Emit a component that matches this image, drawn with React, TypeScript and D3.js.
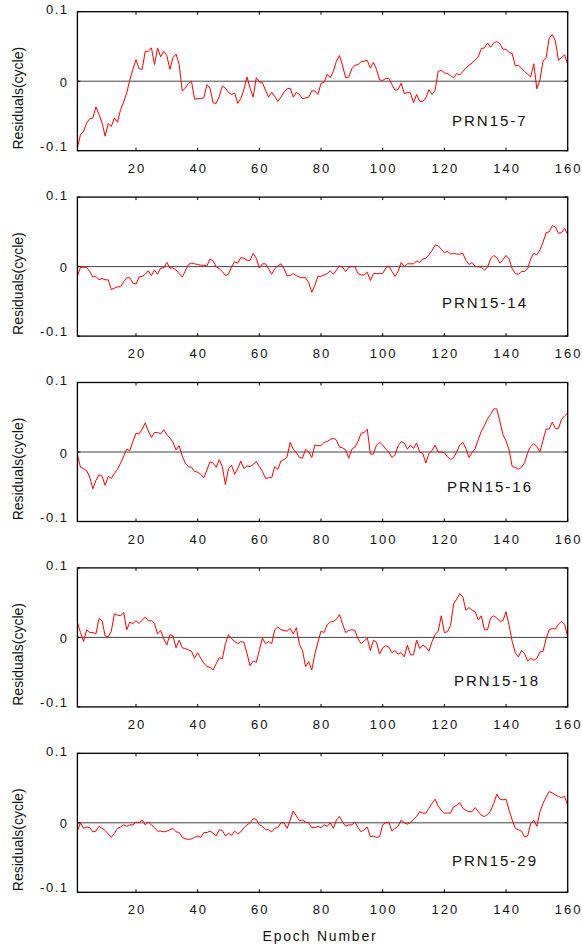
import React from "react";
import { scaleLinear, line } from "d3";

// epoch axis
const epochs = Array.from({ length: 160 }, (_, i) => i + 1);
const xTicks = [20, 40, 60, 80, 100, 120, 140, 160];
const yTicks = [0.1, 0, -0.1];

const prn7 = [
  -0.096, -0.077, -0.072, -0.06, -0.054, -0.053, -0.037, -0.048, -0.06, -0.079,
  -0.061, -0.065, -0.053, -0.059, -0.041, -0.03, -0.017, 0.002, 0.017, 0.031,
  0.018, 0.017, 0.043, 0.043, 0.048, 0.024, 0.048, 0.035, 0.043, 0.037,
  0.017, 0.034, 0.039, 0.024, -0.014, -0.01, -0.003, 0.0, -0.026, -0.025,
  -0.025, -0.024, -0.005, -0.01, -0.031, -0.032, -0.022, -0.007, -0.01, -0.016,
  -0.019, -0.017, -0.032, -0.025, -0.012, 0.006, -0.01, -0.023, 0.005, -0.001,
  -0.002, -0.013, -0.023, -0.016, -0.022, -0.029, -0.023, -0.016, -0.011, -0.01,
  -0.023, -0.016, -0.019, -0.025, -0.024, -0.023, -0.014, -0.014, -0.019, -0.003,
  -0.002, 0.01, 0.005, 0.014, 0.029, 0.037, 0.022, 0.005, 0.006, 0.018,
  0.023, 0.024, 0.028, 0.029, 0.03, 0.019, 0.027, 0.017, 0.002, 0.001,
  0.004, 0.004, -0.005, -0.013, -0.012, -0.003, -0.018, -0.016, -0.017, -0.031,
  -0.019, -0.029, -0.029, -0.024, -0.012, -0.019, -0.013, 0.014, 0.016, 0.012,
  0.011, 0.008, 0.005, 0.011, 0.009, 0.014, 0.019, 0.023, 0.026, 0.031,
  0.035, 0.047, 0.048, 0.055, 0.049, 0.055, 0.057, 0.054, 0.046, 0.046,
  0.041, 0.04, 0.022, 0.023, 0.019, 0.014, 0.01, 0.006, 0.025, -0.011,
  0.002, 0.029, 0.034, 0.062, 0.067, 0.058, 0.03, 0.034, 0.038, 0.024,
];

const prn14 = [
  -0.014, -0.001, -0.001, -0.001, -0.007, -0.015, -0.014, -0.019, -0.017, -0.019,
  -0.019, -0.033, -0.031, -0.029, -0.029, -0.022, -0.016, -0.016, -0.024, -0.025,
  -0.015, -0.014, -0.011, -0.006, -0.013, -0.005, -0.011, -0.002, -0.002, 0.006,
  -0.002, -0.002, -0.005, -0.01, -0.015, -0.006, 0.003, 0.005, 0.004, 0.003,
  0.002, 0.002, 0.001, 0.011, 0.008, 0.0, -0.003, -0.007, -0.013, -0.011,
  0.0, 0.007, 0.005, 0.013, 0.012, 0.009, 0.009, 0.019, 0.012, -0.002,
  0.004, 0.004, -0.003, -0.011, -0.003, 0.001, 0.004, -0.003, -0.013, -0.013,
  -0.01, -0.013, -0.015, -0.016, -0.016, -0.023, -0.037, -0.027, -0.014, -0.014,
  -0.012, -0.01, -0.006, -0.011, -0.005, 0.001, -0.001, -0.007, -0.001, 0.0,
  0.0, -0.01, -0.012, -0.012, -0.008, -0.02, -0.01, -0.01, -0.01, -0.01,
  -0.002, 0.001, -0.007, -0.014, -0.007, 0.006, 0.0, 0.004, 0.004, 0.004,
  0.008, 0.006, 0.011, 0.012, 0.017, 0.023, 0.031, 0.03, 0.025, 0.02,
  0.022, 0.018, 0.019, 0.018, 0.018, 0.019, 0.009, 0.003, 0.006, 0.0,
  0.0, -0.001, -0.005, -0.001, 0.011, 0.016, 0.013, 0.005, 0.01, 0.016,
  0.011, -0.003, -0.01, -0.011, -0.007, -0.007, -0.003, 0.011, 0.019, 0.017,
  0.024, 0.035, 0.049, 0.05, 0.059, 0.057, 0.048, 0.049, 0.055, 0.046,
];

const prn16 = [
  -0.004, -0.022, -0.024, -0.027, -0.036, -0.053, -0.041, -0.033, -0.035, -0.048,
  -0.035, -0.038, -0.031, -0.025, -0.016, -0.006, 0.004, 0.002, 0.015, 0.027,
  0.026, 0.033, 0.042, 0.03, 0.021, 0.028, 0.028, 0.026, 0.032, 0.025,
  0.02, 0.014, 0.003, 0.009, -0.006, -0.016, -0.021, -0.022, -0.028, -0.029,
  -0.032, -0.037, -0.026, -0.014, -0.016, -0.022, -0.011, -0.021, -0.047, -0.024,
  -0.019, -0.032, -0.024, -0.013, -0.024, -0.02, -0.021, -0.018, -0.014, -0.021,
  -0.028, -0.038, -0.037, -0.037, -0.021, -0.025, -0.013, -0.011, -0.007, 0.014,
  0.004, -0.001, -0.008, -0.009, 0.004, 0.0, -0.008, 0.01, 0.009, 0.009,
  0.014, 0.015, 0.018, 0.02, 0.017, 0.007, 0.006, 0.003, -0.009, 0.004,
  0.007, 0.015, 0.027, 0.028, 0.033, -0.003, -0.003, 0.01, 0.014, 0.01,
  0.004, 0.0, -0.008, -0.004, 0.009, 0.015, 0.013, 0.004, 0.01, 0.005,
  0.013, 0.0, -0.002, -0.016, -0.002, 0.002, 0.01, 0.0, 0.0, -0.001,
  -0.007, -0.011, -0.008, 0.0, 0.01, 0.014, 0.005, -0.008, -0.001, 0.005,
  0.018, 0.03, 0.038, 0.048, 0.054, 0.062, 0.062, 0.044, 0.025, 0.016,
  0.003, -0.021, -0.022, -0.025, -0.022, -0.016, -0.001, 0.008, 0.012, 0.008,
  0.0, 0.017, 0.033, 0.033, 0.043, 0.034, 0.034, 0.047, 0.052, 0.056,
];

const prn18 = [
  0.022, 0.007, -0.006, 0.011, 0.007, 0.007, 0.005, 0.027, 0.024, 0.002,
  0.001, 0.009, 0.034, 0.032, 0.031, 0.036, 0.011, 0.022, 0.02, 0.024,
  0.02, 0.025, 0.029, 0.024, 0.024, 0.02, 0.005, 0.01, -0.002, -0.011,
  0.004, 0.002, -0.015, -0.004, -0.015, -0.016, -0.018, -0.02, -0.03, -0.022,
  -0.03, -0.037, -0.042, -0.043, -0.047, -0.038, -0.029, -0.031, -0.009, 0.004,
  -0.002, -0.006, -0.009, -0.006, -0.007, -0.023, -0.041, -0.034, -0.036, -0.019,
  -0.001, -0.009, -0.006, -0.009, 0.011, 0.015, 0.011, 0.01, 0.009, 0.013,
  0.005, 0.014, -0.01, -0.019, -0.042, -0.035, -0.047, -0.024, -0.007, 0.009,
  0.007, 0.018, 0.022, 0.023, 0.026, 0.033, 0.019, 0.007, 0.01, 0.011,
  0.01, -0.002, -0.009, -0.005, -0.001, -0.019, -0.004, -0.007, -0.024, -0.015,
  -0.012, -0.014, -0.022, -0.019, -0.024, -0.022, -0.028, -0.011, -0.025, -0.025,
  -0.004, -0.016, -0.011, -0.014, -0.02, -0.006, 0.004, 0.009, 0.031, 0.007,
  0.008, 0.017, 0.048, 0.055, 0.063, 0.058, 0.039, 0.043, 0.039, 0.037,
  0.025, 0.031, 0.011, 0.011, 0.028, 0.031, 0.028, 0.023, 0.024, 0.037,
  0.017, -0.006, -0.022, -0.028, -0.019, -0.023, -0.034, -0.03, -0.033, -0.03,
  -0.021, -0.02, -0.002, 0.011, 0.013, 0.012, 0.019, 0.023, 0.019, 0.0,
];

const prn29 = [
  -0.012, 0.0, -0.008, -0.006, -0.007, -0.013, -0.012, -0.005, -0.008, -0.011,
  -0.016, -0.021, -0.015, -0.008, -0.006, -0.003, -0.005, -0.003, -0.003, 0.001,
  0.0, 0.004, -0.003, 0.001, -0.003, -0.007, -0.012, -0.012, -0.013, -0.012,
  -0.01, -0.008, -0.013, -0.014, -0.021, -0.023, -0.024, -0.023, -0.021, -0.019,
  -0.021, -0.014, -0.014, -0.012, -0.015, -0.019, -0.01, -0.011, -0.019, -0.015,
  -0.018, -0.012, -0.016, -0.013, -0.007, -0.003, 0.0, 0.006, 0.005, -0.003,
  -0.005, -0.01, -0.01, -0.013, -0.008, -0.007, 0.0, 0.0, -0.008, 0.004,
  0.017, 0.01, 0.003, 0.004, 0.001, 0.0, -0.007, -0.007, -0.005, -0.007,
  -0.003, -0.005, 0.0, -0.008, 0.004, 0.009, 0.001, -0.005, -0.003, -0.003,
  0.001, -0.007, -0.013, -0.01, -0.006, -0.02, -0.019, -0.021, -0.02, -0.003,
  0.0, 0.001, -0.012, -0.008, -0.005, 0.004, 0.0, -0.002, 0.0, 0.005,
  0.009, 0.016, 0.014, 0.014, 0.021, 0.028, 0.034, 0.024, 0.018, 0.014,
  0.014, 0.014, 0.023, 0.025, 0.029, 0.021, 0.018, 0.016, 0.016, 0.022,
  0.016, 0.011, 0.009, 0.012, 0.017, 0.028, 0.041, 0.034, 0.033, 0.034,
  0.018, 0.004, -0.008, -0.01, -0.012, -0.02, -0.019, -0.001, 0.004, -0.005,
  0.016, 0.028, 0.037, 0.045, 0.043, 0.04, 0.038, 0.036, 0.038, 0.025,
];

const names = ["PRN15-7", "PRN15-14", "PRN15-16", "PRN15-18", "PRN15-29"];
const series = [prn7, prn14, prn16, prn18, prn29];

// layout
const W = 582;
const H = 946;
const left = 77.4;
const right = 567.7;
const firstTop = 11.7;
const step = 185.4;
const plotH = 139;
const labelX = [452, 442, 447, 454, 452];
const labelDy = [114, 111, 109, 118, 113];

const font = "'Liberation Sans', Arial, sans-serif";

function Panel({ idx }: { idx: number }) {
  const top = firstTop + idx * step;
  const bottom = top + plotH;
  const x = scaleLinear().domain([1, 160]).range([left, right]);
  const y = scaleLinear().domain([-0.1, 0.1]).range([bottom, top]);
  const path = line<number>()
    .x((_, i) => x(epochs[i]))
    .y((d) => y(d))(series[idx]);

  // y labels sit a bit inside the frame at the ends
  const yLabelOffset = (v: number) => (v > 0 ? 2.5 : v === 0 ? 5.5 : 0);

  return (
    <g>
      <line x1={left} x2={right} y1={y(0)} y2={y(0)} stroke="#444" strokeWidth={1} />
      <path d={path || ""} fill="none" stroke="#ff0000" strokeWidth={1} />
      <rect x={left} y={top} width={right - left} height={plotH} fill="none" stroke="#000" strokeWidth={1.3} />
      {xTicks.map((t) => (
        <g key={t}>
          <line x1={x(t)} x2={x(t)} y1={top} y2={top + 3} stroke="#000" />
          <line x1={x(t)} x2={x(t)} y1={bottom} y2={bottom - 3} stroke="#000" />
          <text x={x(t) + 1} y={bottom + 22} textAnchor="middle" fontSize={13} letterSpacing={2} fontFamily={font} fill="#111">
            {t}
          </text>
        </g>
      ))}
      {yTicks.map((v) => (
        <g key={v}>
          <line x1={left} x2={left + 3} y1={y(v)} y2={y(v)} stroke="#000" />
          <line x1={right} x2={right - 3} y1={y(v)} y2={y(v)} stroke="#000" />
          <text x={68.5} y={y(v) + yLabelOffset(v)} textAnchor="end" fontSize={13} letterSpacing={1.5} fontFamily={font} fill="#111">
            {v === 0 ? "0" : v.toFixed(1)}
          </text>
        </g>
      ))}
      <text
        transform={`translate(23,${(top + bottom) / 2 + 17}) rotate(-90)`}
        textAnchor="middle"
        fontSize={14}
        fontFamily={font}
        fill="#111"
      >
        Residuals(cycle)
      </text>
      <text x={labelX[idx]} y={top + labelDy[idx]} fontSize={15} letterSpacing={2} fontFamily={font} fill="#111">
        {names[idx]}
      </text>
    </g>
  );
}

export default function App() {
  return (
    <svg width={W} height={H} style={{ position: "absolute", left: 0, top: 0, background: "#fff" }}>
      {names.map((_, i) => (
        <Panel key={i} idx={i} />
      ))}
      <text x={320} y={941} textAnchor="middle" fontSize={14} letterSpacing={1.8} fontFamily={font} fill="#111">
        Epoch Number
      </text>
    </svg>
  );
}
